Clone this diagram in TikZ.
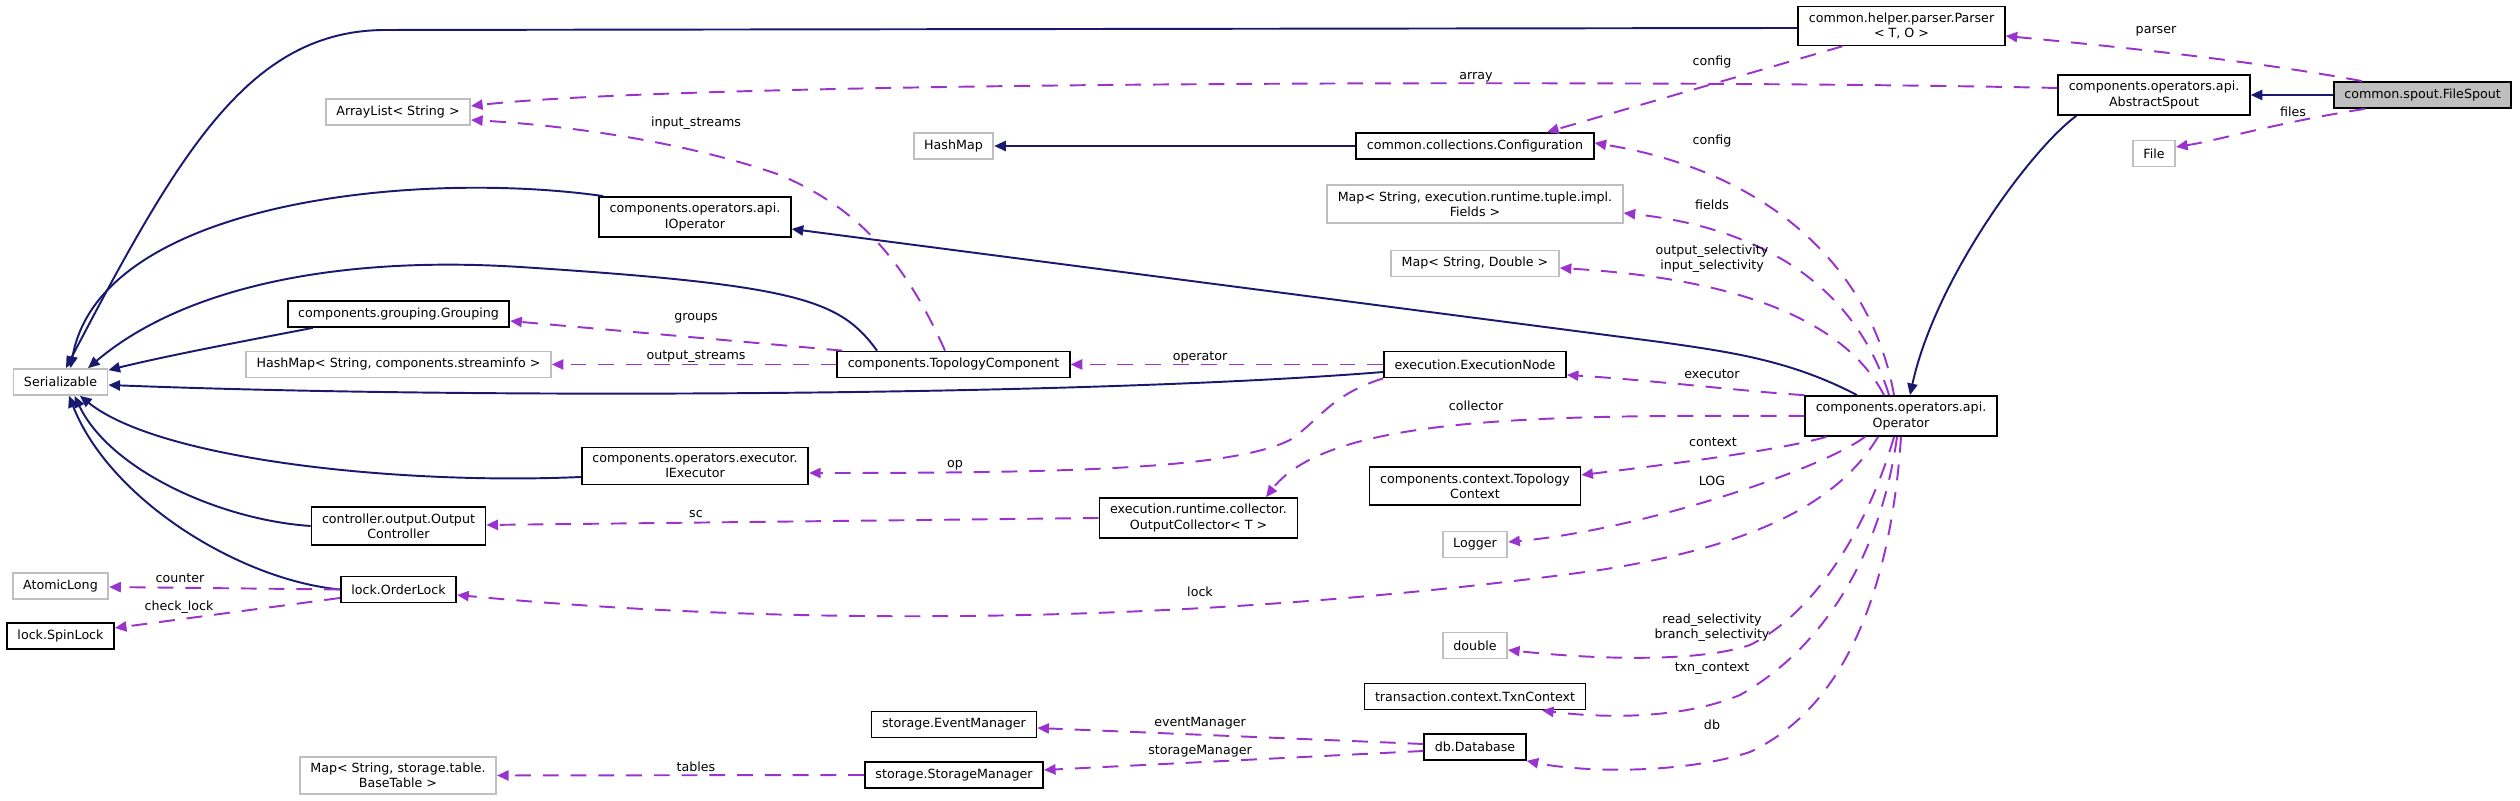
\documentclass[tikz,border=0pt]{standalone}
\usepackage{fontspec}
\setmainfont{DejaVu Sans}
\usetikzlibrary{arrows.meta}
\definecolor{edgeblue}{RGB}{25,25,112}
\definecolor{edgepurple}{RGB}{154,50,205}
\definecolor{boxgray}{RGB}{191,191,191}
\newcommand\doxfont{\fontsize{3.6pt}{4.3pt}\selectfont}
\tikzset{cls/.style={draw=black,fill=white,line width=.5pt,inner xsep=3pt,inner ysep=1.8pt,
   minimum height=.26cm,align=center,font=\doxfont},
 ext/.style={cls,draw=boxgray},
 cur/.style={cls,fill=boxgray},
 inh/.style={draw=edgeblue,line width=.55pt,-{Triangle[length=3.3pt,width=2.9pt]}},
 use/.style={draw=edgepurple,line width=.55pt,dash pattern=on 4.5pt off 3.4pt,
   -{Triangle[length=3.3pt,width=2.9pt]}},
 lbl/.style={inner sep=0pt,align=center,font=\doxfont}}

\begin{document}
\begin{tikzpicture}
\useasboundingbox (0,0) rectangle (25.2,-8.01);
% classes
\node[cls] (parser) at (19.015,-0.26) {common.helper.parser.Parser\\< T, O >};
\node[cur] (spout) at (24.225,-0.95) {common.spout.FileSpout};
\node[cls] (abs) at (21.54,-0.95) {components.operators.api.\\AbstractSpout};
\node[ext] (file) at (21.54,-1.535) {File};
\node[ext] (alist) at (3.98,-1.12) {ArrayList< String >};
\node[ext] (hmap) at (9.535,-1.46) {HashMap};
\node[cls] (conf) at (14.75,-1.46) {common.collections.Configuration};
\node[ext] (fmap) at (14.75,-2.04) {Map< String, execution.runtime.tuple.impl.\\Fields >};
\node[ext] (dmap) at (14.75,-2.635) {Map< String, Double >};
\node[cls] (iop) at (6.95,-2.17) {components.operators.api.\\IOperator};
\node[cls] (grp) at (3.985,-3.14) {components.grouping.Grouping};
\node[ext] (smap) at (3.985,-3.645) {HashMap< String, components.streaminfo >};
\node[cls] (tc) at (9.535,-3.645) {components.TopologyComponent};
\node[cls] (en) at (14.75,-3.645) {execution.ExecutionNode};
\node[ext] (ser) at (0.605,-3.82) {Serializable};
\node[cls] (op) at (19.01,-4.16) {components.operators.api.\\Operator};
\node[cls] (iex) at (6.95,-4.66) {components.operators.executor.\\IExecutor};
\node[cls] (outc) at (3.985,-5.26) {controller.output.Output\\Controller};
\node[cls] (coll) at (11.985,-5.18) {execution.runtime.collector.\\OutputCollector< T >};
\node[cls] (ctx) at (14.75,-4.86) {components.context.Topology\\Context};
\node[ext] (logr) at (14.75,-5.445) {Logger};
\node[cls] (olock) at (3.985,-5.895) {lock.OrderLock};
\node[ext] (along) at (0.605,-5.86) {AtomicLong};
\node[cls] (slock) at (0.605,-6.36) {lock.SpinLock};
\node[ext] (dbl) at (14.75,-6.455) {double};
\node[cls] (txn) at (14.75,-6.965) {transaction.context.TxnContext};
\node[cls] (evm) at (9.54,-7.245) {storage.EventManager};
\node[cls] (db) at (14.75,-7.47) {db.Database};
\node[cls] (stm) at (9.54,-7.75) {storage.StorageManager};
\node[ext] (tmap) at (3.98,-7.755) {Map< String, storage.table.\\BaseTable >};
% inheritance
\draw[inh] ([yshift=-.02cm]parser.west) -- (3.86,-0.30) .. controls (2.5,-0.30) and (1.8,-1.5) .. ([xshift=.055cm]ser.north);
\draw[inh] ([xshift=.05cm]iop.north west) .. controls (4.2,-1.70) and (1.0,-2.0) .. ([xshift=.1cm]ser.north);
\draw[inh] ([xshift=-.765cm]tc.north) .. controls (8.4,-3.0) and (8.0,-2.85) .. (5.2,-2.67) .. controls (3.3,-2.55) and (1.8,-2.9) .. ([xshift=.275cm]ser.north);
\draw[inh] ([xshift=.26cm]grp.south west) .. controls (2.5,-3.40) and (1.7,-3.55) .. ([yshift=-.02cm]ser.north east);
\draw[inh] ([yshift=-.075cm]en.west) .. controls (11.0,-3.95) and (5.0,-4.0) .. ([yshift=-.03cm]ser.east);
\draw[inh] ([yshift=-.11cm]iex.west) .. controls (4.0,-4.85) and (1.6,-4.6) .. ([xshift=.195cm]ser.south);
\draw[inh] (outc.west) .. controls (2.2,-5.2) and (1.1,-4.7) .. ([xshift=.14cm]ser.south);
\draw[inh] (olock.west) .. controls (2.4,-5.8) and (1.1,-5.0) .. ([xshift=.085cm]ser.south);
\draw[inh] (conf.west) -- (hmap.east);
\draw[inh] ([xshift=-.44cm]op.north) .. controls (17.9,-3.6) and (17.3,-3.52) .. (16.6,-3.42) -- ([yshift=-.12cm]iop.east);
\draw[inh] ([xshift=.19cm]abs.south west) .. controls (20.3,-1.5) and (19.35,-2.8) .. ([xshift=.09cm]op.north);
\draw[inh] (spout.west) -- (abs.east);
% members
\draw[use] ([xshift=.29cm]spout.north west) .. controls (22.5,-0.60) and (21.0,-0.45) .. ([yshift=-.10cm]parser.east);
\draw[use] ([xshift=.32cm]spout.south west) .. controls (22.8,-1.22) and (22.2,-1.40) .. ([yshift=.065cm]file.east);
\draw[use] ([yshift=.07cm]abs.west) .. controls (17.0,-0.80) and (7.0,-0.80) .. ([yshift=.06cm]alist.east);
\draw[use] ([xshift=.45cm]parser.south west) -- ([xshift=.72cm]conf.north);
\draw[use] ([xshift=-.07cm]op.north) .. controls (18.7,-2.6) and (17.6,-1.7) .. ([yshift=.03cm]conf.east);
\draw[use] ([xshift=-.085cm]tc.north) .. controls (9.0,-2.5) and (8.5,-2.05) .. (7.8,-1.75) .. controls (6.8,-1.40) and (5.6,-1.25) .. ([yshift=-.08cm]alist.east);
\draw[use] ([xshift=-.12cm]op.north) .. controls (18.6,-3.0) and (17.8,-2.3) .. ([yshift=-.09cm]fmap.east);
\draw[use] ([xshift=-.17cm]op.north) .. controls (18.5,-3.3) and (17.6,-2.8) .. ([yshift=-.045cm]dmap.east);
\draw[use] ([xshift=.06cm]tc.north west) -- ([yshift=-.07cm]grp.east);
\draw[use] (tc.west) -- (smap.east);
\draw[use] (en.west) -- (tc.east);
\draw[use] (op.north west) .. controls (17.5,-3.92) and (16.5,-3.80) .. ([yshift=-.105cm]en.east);
\draw[use] (en.south west) .. controls (13.3,-3.95) and (13.2,-4.2) .. (12.9,-4.4) .. controls (12.3,-4.7) and (10.5,-4.73) .. ([yshift=-.07cm]iex.east);
\draw[use] (op.west) .. controls (15.5,-4.15) and (13.3,-4.15) .. ([xshift=.675cm]coll.north);
\draw[use] ([xshift=.22cm]op.south west) .. controls (17.8,-4.5) and (16.8,-4.63) .. ([yshift=.11cm]ctx.east);
\draw[use] ([xshift=-.36cm]op.south) .. controls (18.2,-4.7) and (16.4,-5.3) .. ([yshift=.025cm]logr.east);
\draw[use] (coll.west) -- ([yshift=.01cm]outc.east);
\draw[use] ([xshift=-.23cm]op.south) .. controls (18.4,-5.0) and (17.6,-5.45) .. (16.0,-5.70) .. controls (12.5,-6.18) and (8.5,-6.32) .. ([yshift=-.055cm]olock.east);
\draw[use] (olock.west) -- ([yshift=-.01cm]along.east);
\draw[use] ([yshift=-.085cm]olock.west) -- ([yshift=.08cm]slock.east);
\draw[use] ([xshift=-.07cm]op.south) .. controls (18.7,-5.2) and (18.2,-6.1) .. (17.5,-6.45) .. controls (17.0,-6.62) and (16.0,-6.6) .. ([yshift=-.045cm]dbl.east);
\draw[use] ([xshift=-.04cm]op.south) .. controls (18.8,-5.6) and (18.2,-6.5) .. (17.4,-6.95) .. controls (16.8,-7.2) and (16.0,-7.18) .. ([xshift=.67cm]txn.south);
\draw[use] (op.south) .. controls (18.9,-6.0) and (18.4,-7.1) .. (17.5,-7.52) .. controls (16.8,-7.75) and (15.8,-7.72) .. (db.south east);
\draw[use] ([yshift=.03cm]db.west) -- ([yshift=-.035cm]evm.east);
\draw[use] ([yshift=-.04cm]db.west) -- ([yshift=.05cm]stm.east);
\draw[use] (stm.west) -- (tmap.east);
% member names
\node[lbl] (lparser) at (21.56,-0.31) {parser};
\node[lbl] (lfiles) at (22.93,-1.12) {files};
\node[lbl] (larray) at (14.76,-0.77) {array};
\node[lbl] (lconfa) at (17.12,-0.62) {config};
\node[lbl] (lconfb) at (17.12,-1.41) {config};
\node[lbl] (linput) at (6.96,-1.23) {input\_streams};
\node[lbl] (lfields) at (17.12,-2.05) {fields};
\node[lbl] (lsel) at (17.12,-2.59) {output\_selectivity\\input\_selectivity};
\node[lbl] (lgroups) at (6.96,-3.18) {groups};
\node[lbl] (loutput) at (6.96,-3.57) {output\_streams};
\node[lbl] (loper) at (12.0,-3.57) {operator};
\node[lbl] (lexec) at (17.12,-3.74) {executor};
\node[lbl] (lop) at (9.55,-4.65) {op};
\node[lbl] (lcoll) at (14.76,-4.06) {collector};
\node[lbl] (lctx) at (17.13,-4.42) {context};
\node[lbl] (llog) at (17.12,-4.81) {LOG};
\node[lbl] (lsc) at (6.96,-5.14) {sc};
\node[lbl] (llock) at (12.0,-5.92) {lock};
\node[lbl] (lcount) at (1.80,-5.78) {counter};
\node[lbl] (lcheck) at (1.79,-6.07) {check\_lock};
\node[lbl] (lrsel) at (17.12,-6.28) {read\_selectivity\\branch\_selectivity};
\node[lbl] (ltxn) at (17.12,-6.69) {txn\_context};
\node[lbl] (ldb) at (17.12,-7.25) {db};
\node[lbl] (levm) at (12.0,-7.23) {eventManager};
\node[lbl] (lstm) at (12.0,-7.51) {storageManager};
\node[lbl] (ltab) at (6.96,-7.67) {tables};
\end{tikzpicture}
\end{document}
